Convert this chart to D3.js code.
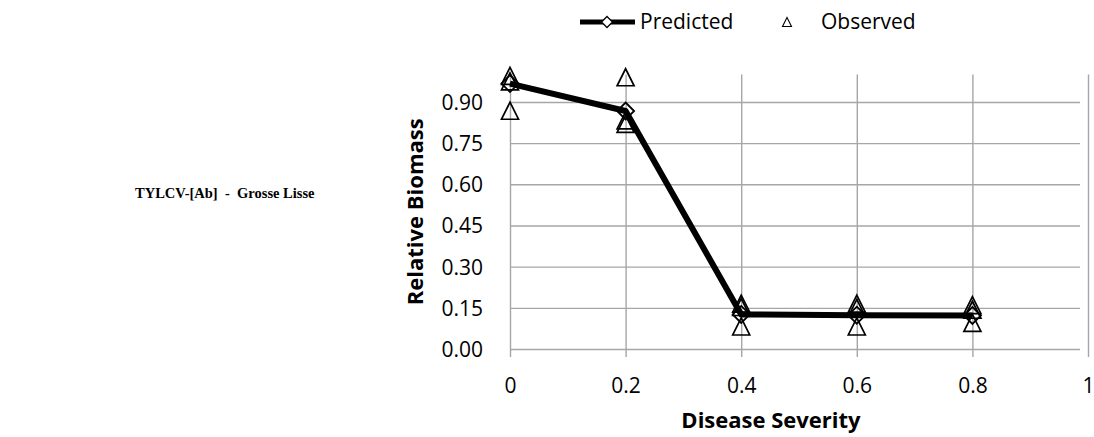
<!DOCTYPE html>
<html>
<head>
<meta charset="utf-8">
<script src="https://cdn.jsdelivr.net/npm/d3@7"></script>
<style>
    body { margin: 0; background: #fff; }
    svg { display: block; }
</style>
</head>
<body>
<script>
const width = 1094;
const height = 437;

// disease severity levels
const severity = [0, 0.2, 0.4, 0.6, 0.8];
// predicted relative biomass
const predicted = [0.967, 0.867, 0.126, 0.123, 0.122];
// observed relative biomass (three replicates per level)
const observed = [
    [0.995, 0.975, 0.868],
    [0.99, 0.833, 0.82],
    [0.165, 0.153, 0.082],
    [0.165, 0.15, 0.082],
    [0.16, 0.143, 0.095]
];
const xTicks = [0, 0.2, 0.4, 0.6, 0.8, 1];
const yTicks = [0, 0.15, 0.30, 0.45, 0.60, 0.75, 0.90];

const margin = { top: 74.5, right: 6, bottom: 88, left: 510 };
const tickFont = "'Open Sans', sans-serif";

const svg = d3.select('body')
    .append('svg')
    .attr('width', width)
    .attr('height', height);

const x = d3.scaleLinear()
    .domain([0, 1])
    .range([margin.left, width - margin.right]);

const y = d3.scaleLinear()
    .domain([0, 1])
    .range([height - margin.bottom, margin.top]);

const gridColor = '#a6a6a6';

// horizontal gridlines + y ticks
svg.append('g')
    .attr('transform', `translate(${margin.left},0)`)
    .call(d3.axisLeft(y)
        .tickValues(yTicks)
        .tickSize(-(width - margin.right - margin.left))
        .tickSizeOuter(0)
        .tickFormat(d3.format('.2f')))
    .call(g => g.select('.domain').remove())
    .call(g => g.selectAll('.tick line')
        .attr('x1', 8)
        .attr('stroke', gridColor)
        .attr('stroke-width', 1.4)
        .attr('transform', 'translate(-8,0)'))
    .call(g => g.selectAll('.tick text')
        .attr('x', -27)
        .attr('dy', '0.35em')
        .style('font-family', tickFont)
        .style('font-size', '21px')
        .attr('fill', '#000'));

// vertical gridlines + x ticks
svg.append('g')
    .attr('transform', `translate(0,${height - margin.bottom})`)
    .call(d3.axisBottom(x)
        .tickValues(xTicks)
        .tickSize(-(height - margin.bottom - margin.top))
        .tickSizeOuter(0)
        .tickFormat(d3.format('')))
    .call(g => g.select('.domain').remove())
    .call(g => g.selectAll('.tick line')
        .attr('y1', 8)
        .attr('stroke', gridColor)
        .attr('stroke-width', 1.4))
    .call(g => g.selectAll('.tick text')
        .attr('y', 29)
        .attr('dy', '0.71em')
        .style('font-family', tickFont)
        .style('font-size', '21px')
        .attr('fill', '#000'));

// axis titles
svg.append('text')
    .text('Disease Severity')
    .attr('x', 771)
    .attr('y', 428)
    .attr('text-anchor', 'middle')
    .style('font-family', tickFont)
    .style('font-weight', 'bold')
    .style('font-size', '22px');

svg.append('text')
    .text('Relative Biomass')
    .attr('transform', `translate(423,${(y(0) + y(1)) / 2}) rotate(-90)`)
    .attr('text-anchor', 'middle')
    .style('font-family', tickFont)
    .style('font-weight', 'bold')
    .style('font-size', '22px');

// side title
svg.append('text')
    .text('TYLCV-[Ab]  -  Grosse Lisse')
    .attr('x', 135)
    .attr('y', 198)
    .attr('xml:space', 'preserve')
    .style('white-space', 'pre')
    .style('font-family', "'Liberation Serif', 'Times New Roman', serif")
    .style('font-weight', 'bold')
    .style('font-size', '14.5px');

const triPath = (cx, cy, s) => `M${cx},${cy - s}L${cx + s},${cy + s}L${cx - s},${cy + s}Z`;
const diaPath = (cx, cy, s) => `M${cx},${cy - s}L${cx + s},${cy}L${cx},${cy + s}L${cx - s},${cy}Z`;

// predicted line
const line = d3.line()
    .x((d, i) => x(severity[i]))
    .y(d => y(d));

svg.append('path')
    .datum(predicted)
    .attr('d', line)
    .attr('fill', 'none')
    .attr('stroke', '#000')
    .attr('stroke-width', 6)
    .attr('stroke-linejoin', 'round');

svg.append('g')
    .selectAll('path')
    .data(predicted)
    .join('path')
    .attr('d', (d, i) => diaPath(x(severity[i]), y(d), 8.5))
    .attr('fill', 'none')
    .attr('stroke', '#000')
    .attr('stroke-width', 1.8);

// observed triangles
const obsPoints = observed.flatMap((vals, i) => vals.map(v => ({ sx: severity[i], v })));

svg.append('g')
    .selectAll('path')
    .data(obsPoints)
    .join('path')
    .attr('d', d => triPath(x(d.sx), y(d.v), 8.5))
    .attr('fill', 'none')
    .attr('stroke', '#000')
    .attr('stroke-width', 1.7);

// legend
const legend = svg.append('g');

legend.append('line')
    .attr('x1', 580)
    .attr('x2', 635)
    .attr('y1', 22)
    .attr('y2', 22)
    .attr('stroke', '#000')
    .attr('stroke-width', 5);

legend.append('path')
    .attr('d', diaPath(607, 22, 5.5))
    .attr('fill', '#fff')
    .attr('stroke', '#000')
    .attr('stroke-width', 1.3);

legend.append('text')
    .text('Predicted')
    .attr('x', 640)
    .attr('y', 29)
    .style('font-family', tickFont)
    .style('font-size', '21px');

legend.append('path')
    .attr('d', triPath(787, 22, 4.5))
    .attr('fill', 'none')
    .attr('stroke', '#000')
    .attr('stroke-width', 1.1);

legend.append('text')
    .text('Observed')
    .attr('x', 821)
    .attr('y', 29)
    .style('font-family', tickFont)
    .style('font-size', '21px');
</script>
</body>
</html>
